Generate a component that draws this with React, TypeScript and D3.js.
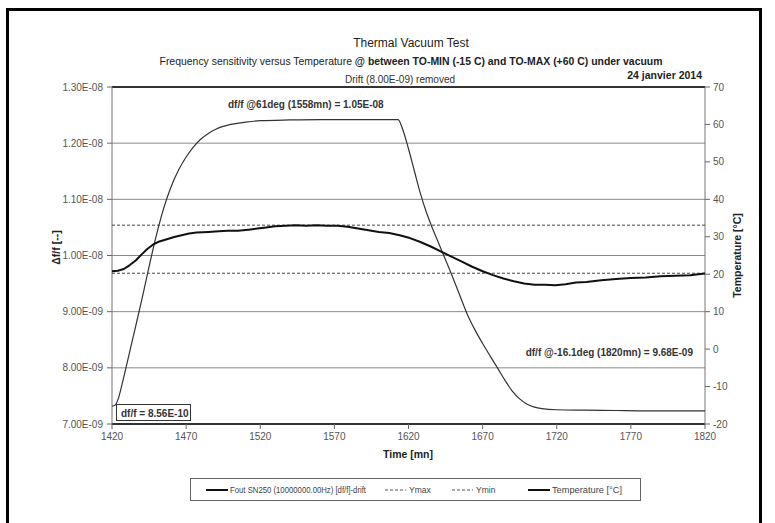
import React from "react";
import * as d3 from "d3";

const timeDf = [1420,1424,1428,1432,1436,1440,1444,1448,1452,1457,1462,1467,1472,1477,1485,1492,1498,1505,1512,1518,1524,1530,1537,1544,1551,1558,1565,1572,1579,1586,1593,1600,1607,1614,1621,1628,1635,1642,1649,1656,1663,1670,1677,1684,1691,1698,1705,1712,1719,1726,1733,1740,1750,1760,1770,1780,1790,1800,1810,1820];
const dfValE9 = [9.72,9.73,9.76,9.83,9.91,10.02,10.12,10.2,10.25,10.29,10.33,10.36,10.39,10.41,10.42,10.43,10.44,10.44,10.46,10.48,10.5,10.52,10.53,10.54,10.53,10.54,10.53,10.53,10.51,10.48,10.45,10.42,10.4,10.36,10.31,10.24,10.16,10.07,9.98,9.89,9.8,9.72,9.65,9.59,9.54,9.5,9.48,9.48,9.47,9.49,9.52,9.53,9.56,9.58,9.6,9.61,9.63,9.64,9.65,9.68];

const timeT = [1420,1422,1424,1427,1430,1435,1440,1445,1450,1455,1460,1465,1470,1475,1480,1485,1490,1500,1510,1520,1540,1560,1580,1600,1613,1616,1620,1624,1628,1632,1636,1640,1644,1648,1652,1656,1660,1665,1670,1675,1680,1685,1690,1695,1700,1705,1710,1720,1740,1760,1780,1800,1820];
const tempC = [-15.2,-15,-13.5,-9,-4,4.5,13,22,30.5,37.8,43.5,47.9,51.3,54,56.1,57.6,58.7,60,60.6,61,61.2,61.3,61.3,61.3,61.3,58.8,53.5,47.5,41.6,36.6,32.4,28.6,24.8,21,17,12.9,9,5,1.5,-1.8,-5,-8.3,-11.2,-13.3,-14.7,-15.5,-15.9,-16.2,-16.3,-16.4,-16.5,-16.5,-16.5];

const yMax = 1.054e-8;
const yMin = 9.684e-9;

const xTicks = [1420,1470,1520,1570,1620,1670,1720,1770,1820];
const leftTicks = [7e-9,8e-9,9e-9,1e-8,1.1e-8,1.2e-8,1.3e-8];
const rightTicks = [-20,-10,0,10,20,30,40,50,60,70];

const fmtE = (v: number) => {
  const [m, e] = v.toExponential(2).split("e");
  const n = Math.abs(parseInt(e, 10));
  return m + "E" + (e[0] === "-" ? "-" : "+") + (n < 10 ? "0" + n : "" + n);
};

const FONT = "'Liberation Sans', Arial, sans-serif";

export default function App() {
  const W = 775, H = 523;
  const L = 112, R = 705, T = 87, B = 424;
  const x = d3.scaleLinear().domain([1420, 1820]).range([L, R]);
  const yL = d3.scaleLinear().domain([7e-9, 1.3e-8]).range([B, T]);
  const yR = d3.scaleLinear().domain([-20, 70]).range([B, T]);

  const dfLine = d3.line<number>().x((_, i) => x(timeDf[i])).y((v) => yL(v * 1e-9))(dfValE9) || "";
  const tLine = d3.line<number>().x((_, i) => x(timeT[i])).y((v) => yR(v)).curve(d3.curveMonotoneX)(tempC) || "";

  const grid = "#8a8a8a";
  const tickCol = "#555";

  return (
    <div style={{ position: "absolute", left: 0, top: 0 }}>
      <svg width={W} height={H} style={{ display: "block", background: "#fff" }} fontFamily={FONT}>
        <rect x={0} y={0} width={W} height={H} fill="#fff" />
        {/* frame */}
        <rect x={7.5} y={9.5} width={753} height={540} fill="none" stroke="#000" strokeWidth={3} />

        {/* titles */}
        <text x={411} y={47} textAnchor="middle" fontSize={12} fill="#222">Thermal Vacuum Test</text>
        <text x={411} y={65} textAnchor="middle" fontSize={10.5} fill="#222" textLength={503} lengthAdjust="spacingAndGlyphs">
          <tspan>Frequency sensitivity versus Temperature  </tspan>
          <tspan fontWeight="bold">@ between TO-MIN (-15 C) and TO-MAX (+60 C) under vacuum</tspan>
        </text>
        <text x={400} y={83} textAnchor="middle" fontSize={10} fill="#333">Drift (8.00E-09) removed</text>
        <text x={702} y={79} textAnchor="end" fontSize={10.5} fontWeight="bold" fill="#222">24 janvier 2014</text>

        {/* gridlines */}
        {leftTicks.slice(1, -1).map((t) => (
          <line key={"g" + t} x1={L} x2={R} y1={yL(t)} y2={yL(t)} stroke={grid} strokeWidth={1} />
        ))}
        {/* axes */}
        <line x1={L} x2={R} y1={T} y2={T} stroke="#333" strokeWidth={2} />
        <line x1={L} x2={R} y1={B} y2={B} stroke="#333" strokeWidth={2} />
        <line x1={L} x2={L} y1={T} y2={B} stroke="#777" strokeWidth={1} />
        <line x1={R} x2={R} y1={T} y2={B} stroke="#777" strokeWidth={1} />

        {leftTicks.map((t) => (
          <g key={"l" + t}>
            <line x1={L - 5} x2={L} y1={yL(t)} y2={yL(t)} stroke="#666" />
            <text x={L - 9} y={yL(t) + 3.5} textAnchor="end" fontSize={10} fill={tickCol}>{fmtE(t)}</text>
          </g>
        ))}
        {rightTicks.map((t) => (
          <g key={"r" + t}>
            <line x1={R} x2={R + 5} y1={yR(t)} y2={yR(t)} stroke="#666" />
            <text x={R + 8} y={yR(t) + 3.5} textAnchor="start" fontSize={10} fill={tickCol}>{t}</text>
          </g>
        ))}
        {xTicks.map((t) => (
          <g key={"x" + t}>
            <line x1={x(t)} x2={x(t)} y1={B} y2={B + 5} stroke="#666" />
            <text x={x(t)} y={B + 16} textAnchor="middle" fontSize={10} fill={tickCol}>{t}</text>
          </g>
        ))}

        <text x={408} y={458} textAnchor="middle" fontSize={10.5} fontWeight="bold" fill="#222">Time [mn]</text>
        <text transform={`translate(60,${(T + B) / 2 - 8}) rotate(-90)`} textAnchor="middle" fontSize={10.5} fontWeight="bold" fill="#222">Δf/f [--]</text>
        <text transform={`translate(741,${(T + B) / 2}) rotate(-90)`} textAnchor="middle" fontSize={10.5} fontWeight="bold" fill="#222">Temperature [°C]</text>

        {/* Ymax / Ymin */}
        <line x1={L} x2={R} y1={yL(yMax)} y2={yL(yMax)} stroke="#444" strokeWidth={1} strokeDasharray="3,2" />
        <line x1={L} x2={R} y1={yL(yMin)} y2={yL(yMin)} stroke="#444" strokeWidth={1} strokeDasharray="3,2" />

        {/* series */}
        <path d={tLine} fill="none" stroke="#333" strokeWidth={1.2} />
        <path d={dfLine} fill="none" stroke="#111" strokeWidth={2} strokeLinejoin="round" />

        {/* annotations */}
        <text x={228} y={108} fontSize={10} fontWeight="bold" fill="#333">df/f @61deg (1558mn) = 1.05E-08</text>
        <text x={693} y={356} textAnchor="end" fontSize={10} fontWeight="bold" fill="#333">df/f @-16.1deg (1820mn) = 9.68E-09</text>
        <rect x={116.5} y={404.5} width={74} height={16} fill="#fff" stroke="#333" strokeWidth={1} />
        <text x={121} y={416.5} fontSize={10} fontWeight="bold" fill="#333">df/f  = 8.56E-10</text>

        {/* legend */}
        <rect x={190.5} y={478.5} width={450} height={22} fill="#fff" stroke="#666" strokeWidth={1} />
        <g fontSize={8.5} fill="#444">
          <line x1={206} x2={228} y1={490} y2={490} stroke="#111" strokeWidth={2} />
          <text x={230} y={493} textLength={136} lengthAdjust="spacingAndGlyphs">Fout SN250 (10000000.00Hz) [df/f]-drift</text>
          <line x1={385} x2={406} y1={490} y2={490} stroke="#555" strokeWidth={1} strokeDasharray="3,2" />
          <text x={409} y={493}>Ymax</text>
          <line x1={452} x2={473} y1={490} y2={490} stroke="#555" strokeWidth={1} strokeDasharray="3,2" />
          <text x={476} y={493}>Ymin</text>
          <line x1={528} x2={550} y1={490} y2={490} stroke="#111" strokeWidth={2} />
          <text x={552} y={493} textLength={70} lengthAdjust="spacingAndGlyphs">Temperature [°C]</text>
        </g>
      </svg>
    </div>
  );
}
